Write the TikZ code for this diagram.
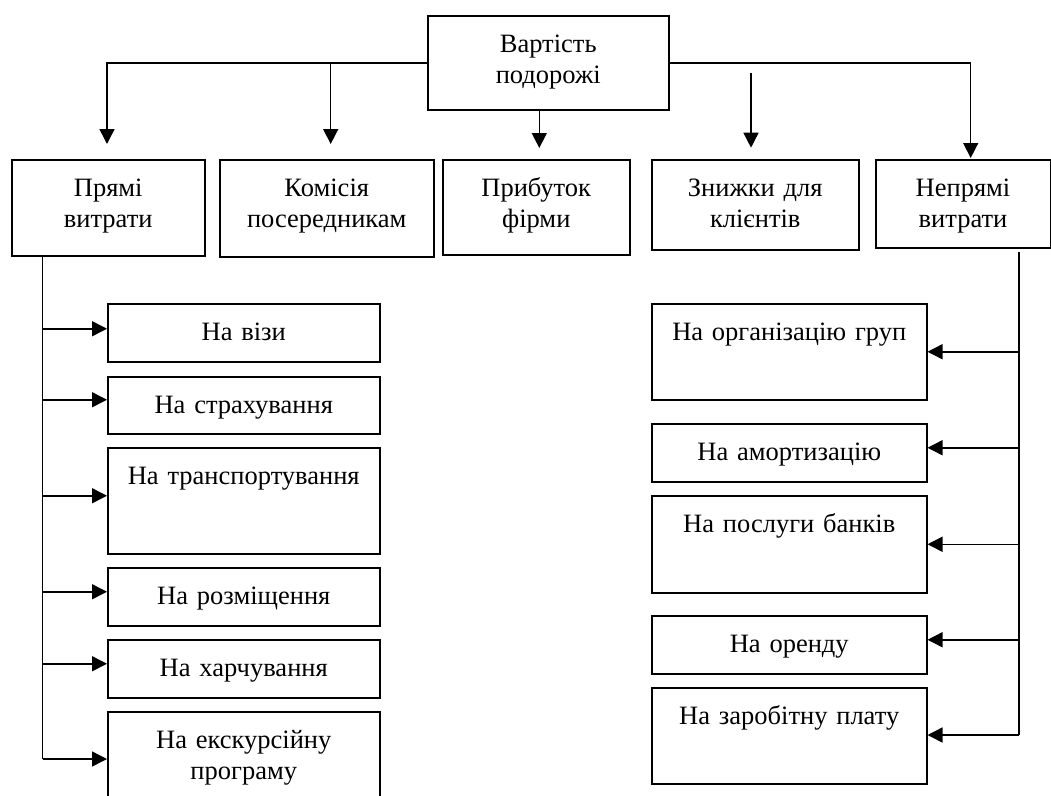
\documentclass[tikz,border=0pt]{standalone}
\usepackage{fontspec}
\setmainfont{Liberation Serif}
\usetikzlibrary{arrows.meta}
\begin{document}
\begin{tikzpicture}[x=1pt,y=-1pt,
  box/.style={draw, line width=1.5pt, inner sep=0pt, align=center, text height=36.5pt,
    font=\fontsize{26.5}{31}\selectfont, anchor=north west},
  conn/.style={line width=1.5pt},
  arr/.style={conn, -{Triangle[length=15pt,width=15pt]}}]
\path[use as bounding box, clip] (0,0) rectangle (1051,795);
% top
\node[box, text width=241pt, text depth=57.8pt] (top) at (427,15) {Вартість\\подорожі};
% row 2
\node[box, text width=193pt, text depth=59.5pt] (pr) at (11,159) {Прямі\\витрати};
\node[box, text width=214pt, text depth=60.5pt] (ko) at (219,159) {Комісія\\посередникам};
\node[box, text width=187pt, text depth=58.5pt] (pf) at (442,159) {Прибуток\\фірми};
\node[box, text width=207pt, text depth=53.5pt] (zn) at (651,159) {Знижки для\\клієнтів};
\node[box, text width=174.5pt, text depth=51.5pt] (np) at (875,159) {Непрямі\\витрати};
% left column
\node[box, text width=272pt, text depth=21.5pt] (l1) at (107,303) {На візи};
\node[box, text width=272pt, text depth=20.5pt] (l2) at (107,376) {На страхування};
\node[box, text width=272pt, text depth=69.5pt] (l3) at (107,447) {На транспортування};
\node[box, text width=272pt, text depth=21.5pt] (l4) at (107,567) {На розміщення};
\node[box, text width=272pt, text depth=21.5pt] (l5) at (107,639) {На харчування};
\node[box, text width=272pt, text depth=59.5pt] (l6) at (107,711) {На екскурсійну\\програму};
% right column
\node[box, text width=275pt, text depth=59.5pt] (r1) at (651,303) {На організацію груп};
\node[box, text width=275pt, text depth=21.5pt] (r2) at (651,423) {На амортизацію};
\node[box, text width=275pt, text depth=60.5pt] (r3) at (651,495) {На послуги банків};
\node[box, text width=275pt, text depth=21.5pt] (r4) at (651,615) {На оренду};
\node[box, text width=275pt, text depth=59.5pt] (r5) at (651,687) {На заробітну плату};
% top connectors
\coordinate (a1) at (107,144);
\coordinate (j2) at (330.7,63);
\coordinate (a2) at (330.7,144);
\coordinate (a3) at (539.3,148);
\coordinate (z0) at (751,72.7);
\coordinate (a4) at (751,147.7);
\coordinate (a5) at (970.7,158);
\draw[arr] (top.west) -| (a1);
\draw[arr] (j2) -- (a2);
\draw[arr] (top.south -| a3) -- (a3);
\draw[arr] (z0) -- (a4);
\draw[arr] (top.east) -| (a5);
% left branch
\coordinate (lb) at (42.7,759);
\draw[conn] (pr.south -| lb) -- (lb);
\draw[arr] ([yshift=4pt]l1.west -| lb) -- ([yshift=4pt]l1.west);
\draw[arr] ([yshift=5.5pt]l2.west -| lb) -- ([yshift=5.5pt]l2.west);
\draw[arr] ([yshift=5pt]l3.west -| lb) -- ([yshift=5pt]l3.west);
\draw[arr] ([yshift=5pt]l4.west -| lb) -- ([yshift=5pt]l4.west);
\draw[arr] ([yshift=5pt]l5.west -| lb) -- ([yshift=5pt]l5.west);
\draw[arr] (lb) -- (lb -| l6.west);
% right branch
\coordinate (rt) at (1019,252);
\coordinate (rb) at (1019,735);
\draw[conn] (rt) -- (rb);
\draw[arr] (r1.east -| rt) -- (r1.east);
\draw[arr] ([yshift=5pt]r2.east -| rt) -- ([yshift=5pt]r2.east);
\draw[arr] (r3.east -| rt) -- (r3.east);
\draw[arr] ([yshift=5pt]r4.east -| rt) -- ([yshift=5pt]r4.east);
\draw[arr] (rb) -- (rb -| r5.east);
\end{tikzpicture}
\end{document}
